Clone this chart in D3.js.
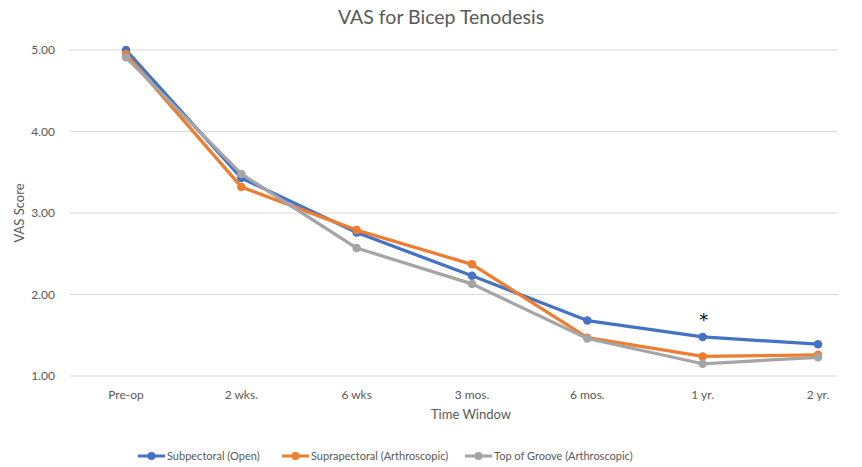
<!DOCTYPE html>
<html><head><meta charset="utf-8">
<script src="https://cdn.jsdelivr.net/npm/d3@7"></script>
<style>body{margin:0;background:#fff;} svg{display:block;}</style>
</head><body>
<svg id="c" width="862" height="467"></svg>
<script>
const categories = ["Pre-op","2 wks.","6 wks","3 mos.","6 mos.","1 yr.","2 yr."];
const subpectoral = [5.00, 3.43, 2.76, 2.23, 1.68, 1.48, 1.39];
const suprapectoral = [4.95, 3.32, 2.79, 2.37, 1.47, 1.24, 1.26];
const topOfGroove = [4.91, 3.48, 2.57, 2.13, 1.46, 1.15, 1.23];
const seriesNames = ["Subpectoral (Open)", "Suprapectoral (Arthroscopic)", "Top of Groove (Arthroscopic)"];
const seriesColors = ["#4472C4", "#ED7D31", "#A5A5A5"];
const yTicks = [1, 2, 3, 4, 5];

const series = [subpectoral, suprapectoral, topOfGroove];
const svg = d3.select("#c");
const font = "Lato, 'Liberation Sans', sans-serif";

const x = d3.scalePoint().domain(categories).range([126, 818]);
const y = d3.scaleLinear().domain([1, 5]).range([376, 50]);

// gridlines
svg.append("g").selectAll("line").data(yTicks).join("line")
  .attr("x1", 70).attr("x2", 838)
  .attr("y1", d => y(d)).attr("y2", d => y(d))
  .attr("stroke", "#d9d9d9").attr("stroke-width", 1);

// y tick labels
svg.append("g").selectAll("text").data(yTicks).join("text")
  .attr("x", 55).attr("y", d => y(d)).attr("dy", "0.35em")
  .attr("text-anchor", "end").attr("font-family", font).attr("font-size", 12)
  .attr("fill", "#595959").text(d => d.toFixed(2));

// x labels
svg.append("g").selectAll("text").data(categories).join("text")
  .attr("x", d => x(d)).attr("y", 395).attr("dy", "0.35em")
  .attr("text-anchor", "middle").attr("font-family", font).attr("font-size", 12)
  .attr("fill", "#595959").text(d => d);

// title
svg.append("text").attr("x", 441).attr("y", 17).attr("dy", "0.35em")
  .attr("text-anchor", "middle").attr("font-family", font).attr("font-size", 19.5)
  .attr("fill", "#595959").text("VAS for Bicep Tenodesis");

// axis titles
svg.append("text").attr("x", 471).attr("y", 414).attr("dy", "0.35em")
  .attr("text-anchor", "middle").attr("font-family", font).attr("font-size", 13)
  .attr("fill", "#595959").text("Time Window");
svg.append("text").attr("transform", "translate(19,213) rotate(-90)").attr("dy", "0.35em")
  .attr("text-anchor", "middle").attr("font-family", font).attr("font-size", 13)
  .attr("fill", "#595959").text("VAS Score");

// lines
const line = d3.line().x((d, i) => x(categories[i])).y(d => y(d));
[0, 1, 2].forEach(si => {
  const g = svg.append("g");
  g.append("path").datum(series[si]).attr("d", line)
    .attr("fill", "none").attr("stroke", seriesColors[si]).attr("stroke-width", 3.25)
    .attr("stroke-linejoin", "round");
  g.selectAll("circle").data(series[si]).join("circle")
    .attr("cx", (d, i) => x(categories[i])).attr("cy", d => y(d)).attr("r", 4.25)
    .attr("fill", seriesColors[si]);
});

// asterisk
svg.append("text").attr("x", x("1 yr.") + 1).attr("y", 326)
  .attr("text-anchor", "middle").attr("font-family", "'DejaVu Sans', sans-serif").attr("font-size", 18)
  .attr("fill", "#000").text("*");

// legend
const legX = [138, 282, 465];
seriesNames.forEach((n, i) => {
  const g = svg.append("g").attr("transform", `translate(${legX[i]},456)`);
  g.append("line").attr("x1", 0).attr("x2", 27).attr("stroke", seriesColors[i]).attr("stroke-width", 3);
  g.append("circle").attr("cx", 13.5).attr("r", 4).attr("fill", seriesColors[i]);
  g.append("text").attr("x", 29).attr("dy", "0.35em").attr("font-family", font)
    .attr("font-size", 11).attr("fill", "#595959").text(n);
});
</script>
</body></html>
